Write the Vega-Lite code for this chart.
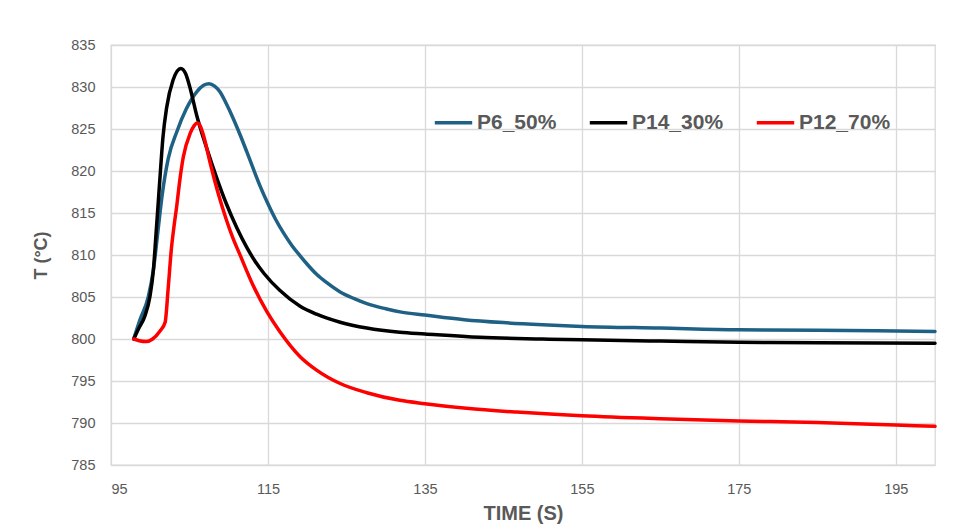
{
  "$schema": "https://vega.github.io/schema/vega-lite/v6.json",
  "width": 824,
  "height": 420,
  "autosize": {"type": "none"},
  "padding": {"left": 111, "top": 45, "right": 39, "bottom": 65},
  "background": "white",
  "config": {
    "font": "Liberation Sans, Arial, sans-serif",
    "view": {"stroke": "#D9D9D9", "strokeWidth": 1.3},
    "axis": {
      "gridColor": "#D9D9D9",
      "gridWidth": 1.3,
      "domain": false,
      "ticks": false,
      "labelColor": "#595959",
      "labelFontSize": 14.5,
      "titleColor": "#595959",
      "titleFontWeight": "bold"
    }
  },
  "data": {
    "values": [
      {"t": 97.9, "T": 800.0, "s": "P6_50%"},
      {"t": 98.7, "T": 802.3, "s": "P6_50%"},
      {"t": 99.75, "T": 805.0, "s": "P6_50%"},
      {"t": 100.4, "T": 808.2, "s": "P6_50%"},
      {"t": 101.0, "T": 813.0, "s": "P6_50%"},
      {"t": 101.5, "T": 817.0, "s": "P6_50%"},
      {"t": 102.3, "T": 821.5, "s": "P6_50%"},
      {"t": 103.4, "T": 824.7, "s": "P6_50%"},
      {"t": 104.6, "T": 827.4, "s": "P6_50%"},
      {"t": 105.9, "T": 829.4, "s": "P6_50%"},
      {"t": 106.8, "T": 830.2, "s": "P6_50%"},
      {"t": 107.5, "T": 830.4, "s": "P6_50%"},
      {"t": 108.2, "T": 830.1, "s": "P6_50%"},
      {"t": 108.9, "T": 829.4, "s": "P6_50%"},
      {"t": 109.7, "T": 828.0, "s": "P6_50%"},
      {"t": 110.6, "T": 826.2, "s": "P6_50%"},
      {"t": 111.5, "T": 824.2, "s": "P6_50%"},
      {"t": 112.3, "T": 822.3, "s": "P6_50%"},
      {"t": 113.2, "T": 820.1, "s": "P6_50%"},
      {"t": 114.0, "T": 818.2, "s": "P6_50%"},
      {"t": 115.0, "T": 816.1, "s": "P6_50%"},
      {"t": 116.0, "T": 814.2, "s": "P6_50%"},
      {"t": 117.0, "T": 812.6, "s": "P6_50%"},
      {"t": 118.0, "T": 811.2, "s": "P6_50%"},
      {"t": 119.1, "T": 809.9, "s": "P6_50%"},
      {"t": 120.0, "T": 808.9, "s": "P6_50%"},
      {"t": 121.2, "T": 807.7, "s": "P6_50%"},
      {"t": 122.5, "T": 806.7, "s": "P6_50%"},
      {"t": 124.2, "T": 805.6, "s": "P6_50%"},
      {"t": 126.0, "T": 804.8, "s": "P6_50%"},
      {"t": 127.6, "T": 804.2, "s": "P6_50%"},
      {"t": 130.0, "T": 803.6, "s": "P6_50%"},
      {"t": 132.0, "T": 803.2, "s": "P6_50%"},
      {"t": 135.0, "T": 802.85, "s": "P6_50%"},
      {"t": 140.0, "T": 802.3, "s": "P6_50%"},
      {"t": 145.0, "T": 801.95, "s": "P6_50%"},
      {"t": 150.0, "T": 801.7, "s": "P6_50%"},
      {"t": 155.0, "T": 801.5, "s": "P6_50%"},
      {"t": 165.0, "T": 801.3, "s": "P6_50%"},
      {"t": 175.0, "T": 801.1, "s": "P6_50%"},
      {"t": 185.0, "T": 801.05, "s": "P6_50%"},
      {"t": 195.0, "T": 800.95, "s": "P6_50%"},
      {"t": 200.0, "T": 800.9, "s": "P6_50%"},

      {"t": 97.9, "T": 800.0, "s": "P14_30%"},
      {"t": 98.5, "T": 801.2, "s": "P14_30%"},
      {"t": 99.3, "T": 802.7, "s": "P14_30%"},
      {"t": 99.95, "T": 805.0, "s": "P14_30%"},
      {"t": 100.4, "T": 808.2, "s": "P14_30%"},
      {"t": 100.7, "T": 812.0, "s": "P14_30%"},
      {"t": 101.0, "T": 816.0, "s": "P14_30%"},
      {"t": 101.3, "T": 820.0, "s": "P14_30%"},
      {"t": 101.6, "T": 823.8, "s": "P14_30%"},
      {"t": 102.1, "T": 827.6, "s": "P14_30%"},
      {"t": 102.9, "T": 830.8, "s": "P14_30%"},
      {"t": 103.9, "T": 832.2, "s": "P14_30%"},
      {"t": 104.5, "T": 831.6, "s": "P14_30%"},
      {"t": 105.1, "T": 829.8, "s": "P14_30%"},
      {"t": 105.9, "T": 826.7, "s": "P14_30%"},
      {"t": 107.2, "T": 822.7, "s": "P14_30%"},
      {"t": 108.5, "T": 819.1, "s": "P14_30%"},
      {"t": 109.7, "T": 816.1, "s": "P14_30%"},
      {"t": 111.0, "T": 813.3, "s": "P14_30%"},
      {"t": 112.3, "T": 810.9, "s": "P14_30%"},
      {"t": 113.4, "T": 809.2, "s": "P14_30%"},
      {"t": 114.5, "T": 807.8, "s": "P14_30%"},
      {"t": 116.5, "T": 805.8, "s": "P14_30%"},
      {"t": 119.1, "T": 803.9, "s": "P14_30%"},
      {"t": 121.2, "T": 802.95, "s": "P14_30%"},
      {"t": 124.2, "T": 802.0, "s": "P14_30%"},
      {"t": 127.6, "T": 801.3, "s": "P14_30%"},
      {"t": 131.8, "T": 800.8, "s": "P14_30%"},
      {"t": 135.0, "T": 800.6, "s": "P14_30%"},
      {"t": 142.0, "T": 800.2, "s": "P14_30%"},
      {"t": 150.0, "T": 800.0, "s": "P14_30%"},
      {"t": 155.0, "T": 799.9, "s": "P14_30%"},
      {"t": 165.0, "T": 799.75, "s": "P14_30%"},
      {"t": 175.0, "T": 799.6, "s": "P14_30%"},
      {"t": 185.0, "T": 799.55, "s": "P14_30%"},
      {"t": 200.0, "T": 799.5, "s": "P14_30%"},

      {"t": 97.9, "T": 800.0, "s": "P12_70%"},
      {"t": 98.6, "T": 799.8, "s": "P12_70%"},
      {"t": 99.5, "T": 799.7, "s": "P12_70%"},
      {"t": 100.3, "T": 800.0, "s": "P12_70%"},
      {"t": 101.2, "T": 800.9, "s": "P12_70%"},
      {"t": 101.9, "T": 802.0, "s": "P12_70%"},
      {"t": 102.3, "T": 806.2, "s": "P12_70%"},
      {"t": 102.7, "T": 810.8, "s": "P12_70%"},
      {"t": 103.0, "T": 813.2, "s": "P12_70%"},
      {"t": 103.4, "T": 816.0, "s": "P12_70%"},
      {"t": 103.7, "T": 818.4, "s": "P12_70%"},
      {"t": 104.2, "T": 821.6, "s": "P12_70%"},
      {"t": 105.1, "T": 824.5, "s": "P12_70%"},
      {"t": 105.6, "T": 825.4, "s": "P12_70%"},
      {"t": 106.0, "T": 825.7, "s": "P12_70%"},
      {"t": 106.4, "T": 825.3, "s": "P12_70%"},
      {"t": 106.8, "T": 824.2, "s": "P12_70%"},
      {"t": 107.6, "T": 821.1, "s": "P12_70%"},
      {"t": 108.7, "T": 817.2, "s": "P12_70%"},
      {"t": 109.7, "T": 814.2, "s": "P12_70%"},
      {"t": 110.5, "T": 812.1, "s": "P12_70%"},
      {"t": 111.4, "T": 810.1, "s": "P12_70%"},
      {"t": 113.1, "T": 806.4, "s": "P12_70%"},
      {"t": 114.9, "T": 803.2, "s": "P12_70%"},
      {"t": 116.5, "T": 800.9, "s": "P12_70%"},
      {"t": 119.1, "T": 797.9, "s": "P12_70%"},
      {"t": 121.2, "T": 796.3, "s": "P12_70%"},
      {"t": 124.2, "T": 794.7, "s": "P12_70%"},
      {"t": 127.6, "T": 793.6, "s": "P12_70%"},
      {"t": 131.8, "T": 792.7, "s": "P12_70%"},
      {"t": 135.0, "T": 792.3, "s": "P12_70%"},
      {"t": 140.3, "T": 791.75, "s": "P12_70%"},
      {"t": 146.7, "T": 791.3, "s": "P12_70%"},
      {"t": 152.0, "T": 791.0, "s": "P12_70%"},
      {"t": 155.0, "T": 790.85, "s": "P12_70%"},
      {"t": 165.0, "T": 790.5, "s": "P12_70%"},
      {"t": 175.0, "T": 790.25, "s": "P12_70%"},
      {"t": 185.0, "T": 790.05, "s": "P12_70%"},
      {"t": 195.0, "T": 789.75, "s": "P12_70%"},
      {"t": 200.0, "T": 789.6, "s": "P12_70%"}
    ]
  },
  "mark": {"type": "line", "strokeWidth": 3.5, "interpolate": "monotone", "strokeCap": "round", "strokeJoin": "round"},
  "encoding": {
    "x": {
      "field": "t",
      "type": "quantitative",
      "scale": {"domain": [95, 200], "nice": false, "zero": false},
      "axis": {
        "values": [95, 115, 135, 155, 175, 195],
        "labelPadding": 17,
        "title": "TIME (S)",
        "titleFontSize": 20,
        "titlePadding": 8
      }
    },
    "y": {
      "field": "T",
      "type": "quantitative",
      "scale": {"domain": [785, 835], "nice": false, "zero": false},
      "axis": {
        "values": [785, 790, 795, 800, 805, 810, 815, 820, 825, 830, 835],
        "labelPadding": 16,
        "title": "T (°C)",
        "titleFontSize": 18,
        "titlePadding": 20
      }
    },
    "color": {
      "field": "s",
      "type": "nominal",
      "sort": ["P6_50%", "P14_30%", "P12_70%"],
      "scale": {"domain": ["P6_50%", "P14_30%", "P12_70%"], "range": ["#1F6185", "#000000", "#FF0000"]},
      "legend": {
        "title": null,
        "orient": "none",
        "direction": "horizontal",
        "legendX": 322,
        "legendY": 57,
        "symbolType": "stroke",
        "symbolSize": 1400,
        "symbolStrokeWidth": 3.5,
        "labelFontSize": 21,
        "labelFontWeight": "bold",
        "labelColor": "#595959",
        "labelOffset": 3,
        "columnPadding": 25
      }
    }
  }
}
